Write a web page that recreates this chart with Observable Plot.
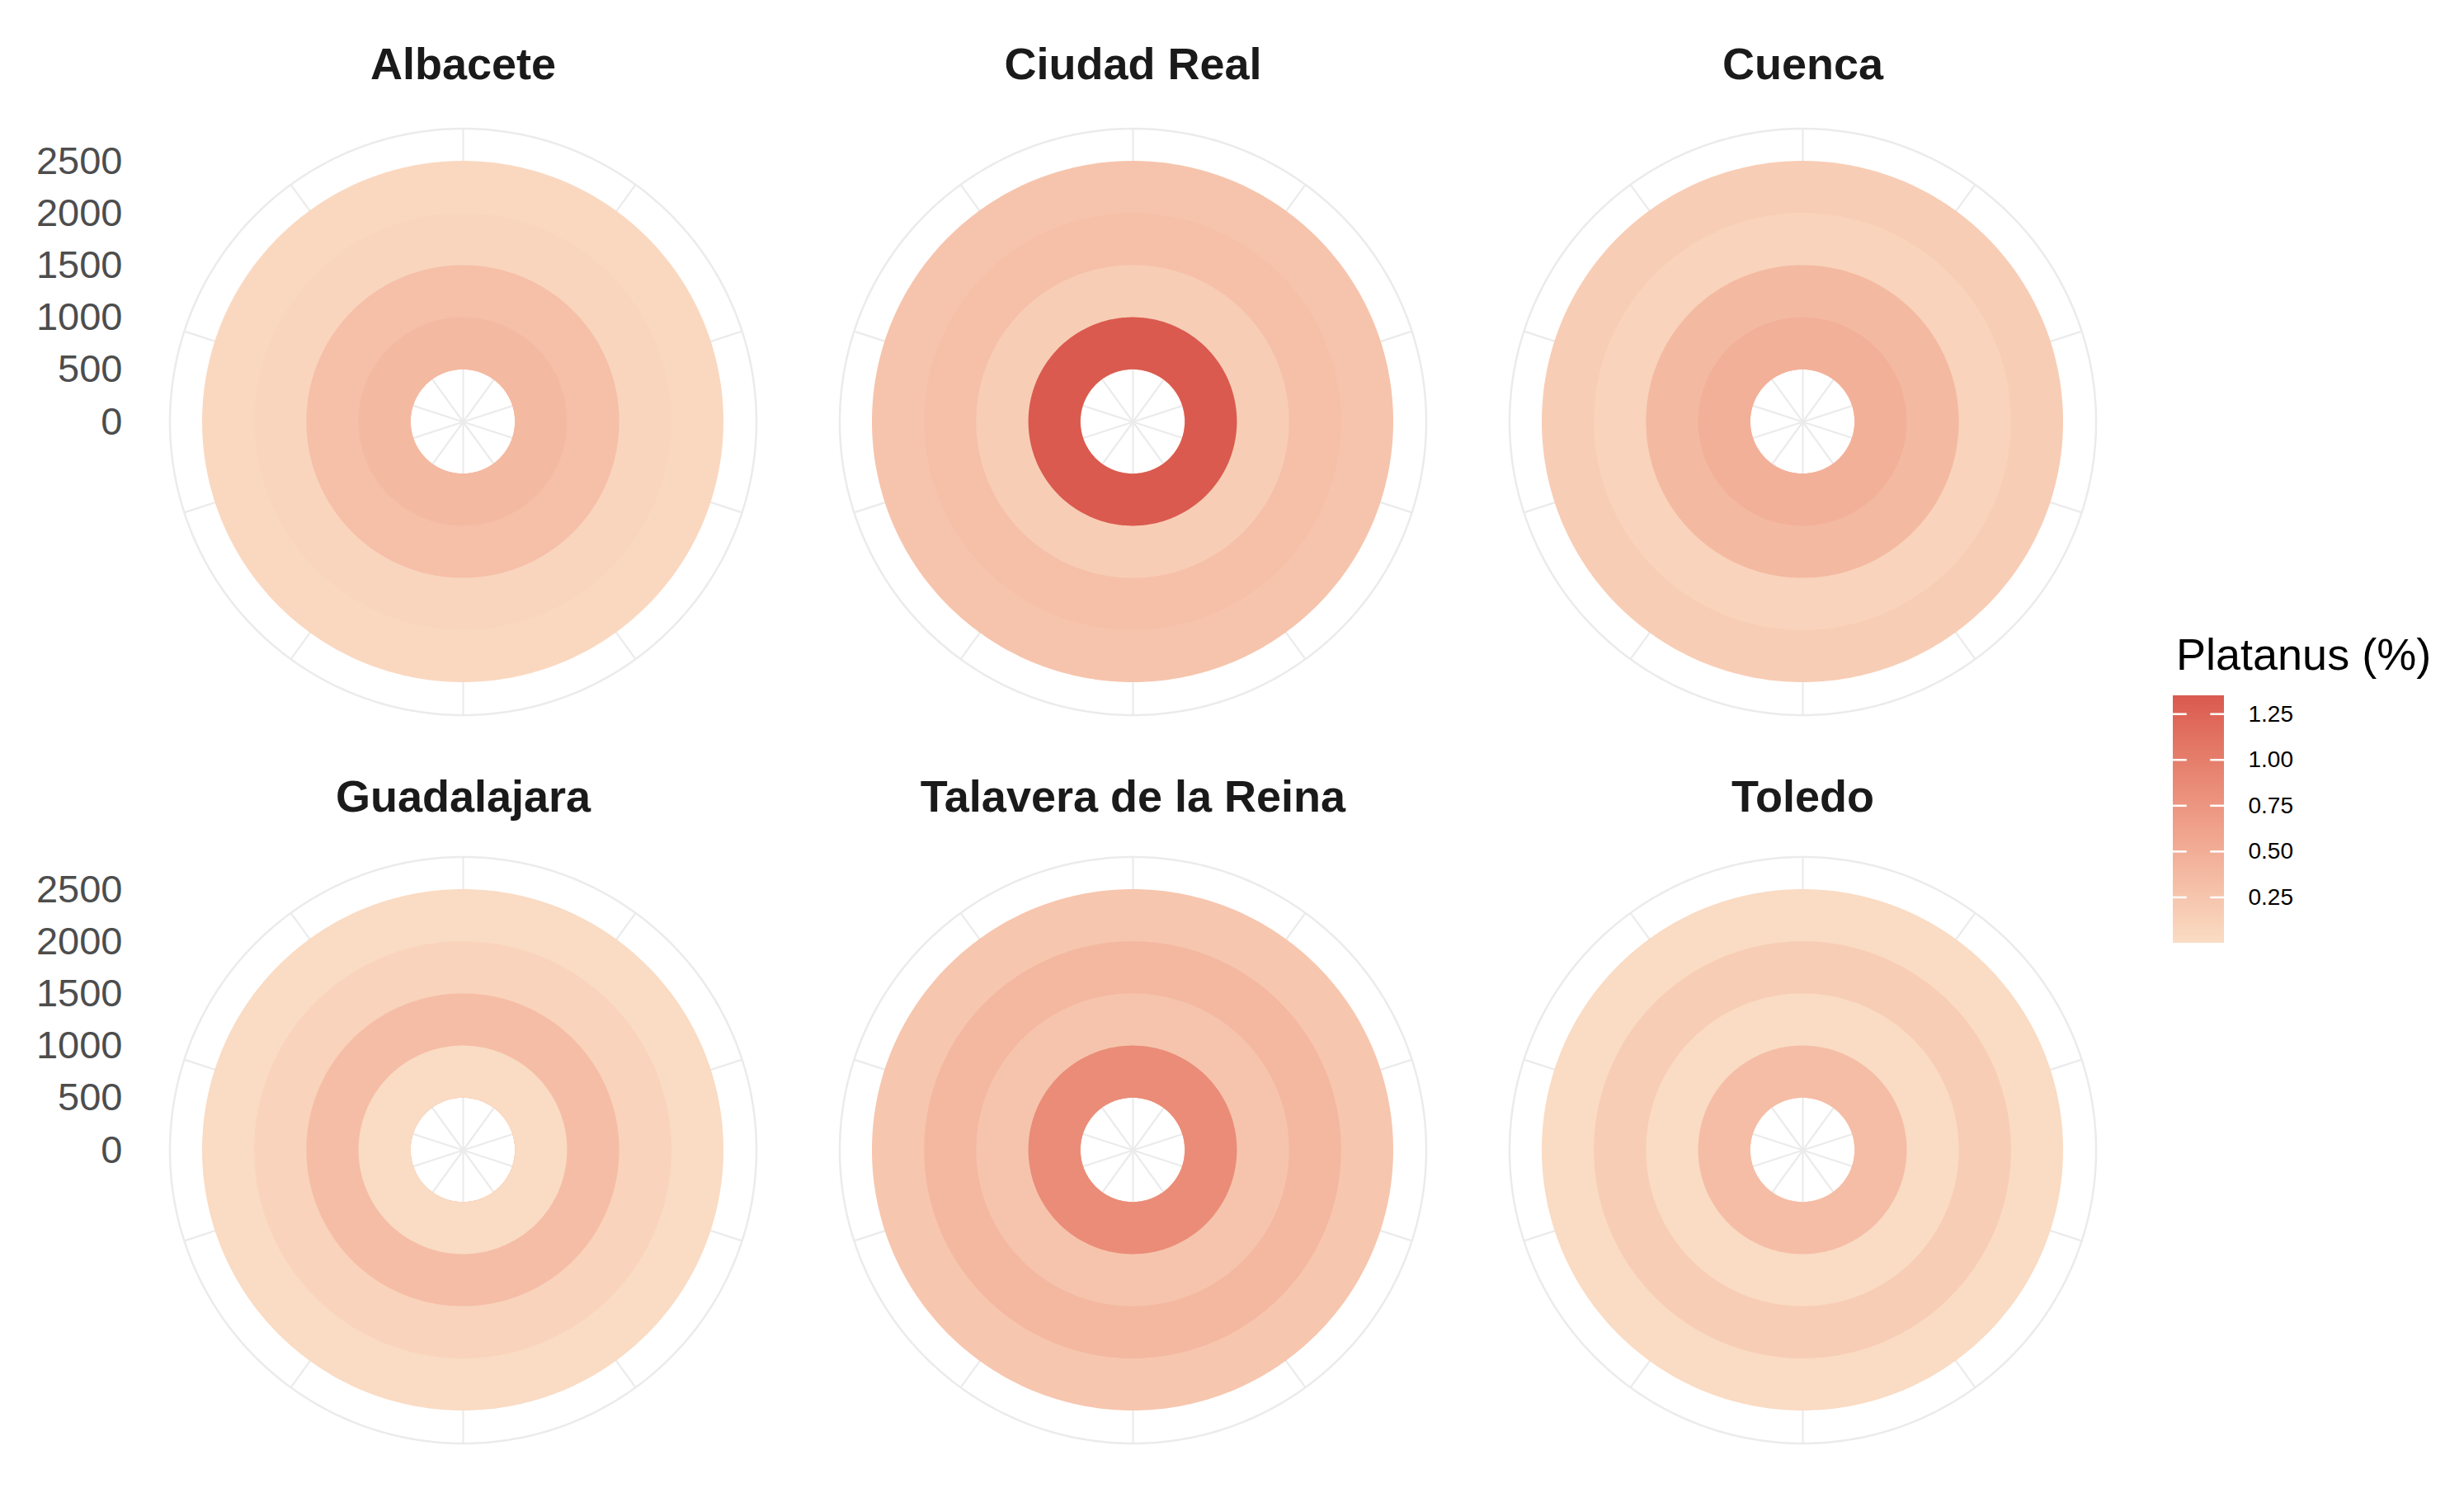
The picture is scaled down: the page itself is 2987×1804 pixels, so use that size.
<!DOCTYPE html>
<html>
<head>
<meta charset="utf-8">
<script src="https://cdn.jsdelivr.net/npm/d3@7"></script>
<script src="https://cdn.jsdelivr.net/npm/@observablehq/plot@0.6"></script>
<style>
  body { margin: 0; background: #fff; }
  #wrap { position: relative; width: 2987px; height: 1804px; font-family: "Liberation Sans", Arial, sans-serif; background: #fff; }
  #main { position: absolute; left: 0; top: 0; }
  #legendTitle { position: absolute; left: 2638px; top: 766px; font-size: 54px; line-height: 1; color: #000; white-space: nowrap; }
  #legend { position: absolute; left: 2600px; top: 800px; }
</style>
</head>
<body>
<div id="wrap">
  <div id="main"></div>
  <div id="legendTitle">Platanus (%)</div>
  <div id="legend"></div>
</div>
<script>
// ---------------- data ----------------
const cities = ["Albacete", "Ciudad Real", "Cuenca", "Guadalajara", "Talavera de la Reina", "Toledo"];
// distance bands (m), inner → outer
const bandInner = [500, 1000, 1500, 2000];
const bandOuter = [1000, 1500, 2000, 2500];
// Platanus (%) per distance band, inner → outer
const albacete    = [0.38, 0.31, 0.07, 0.04];
const ciudadReal  = [1.35, 0.16, 0.30, 0.26];
const cuenca      = [0.47, 0.38, 0.10, 0.16];
const guadalajara = [0.01, 0.33, 0.10, 0.01];
const talavera    = [0.85, 0.26, 0.39, 0.24];
const toledo      = [0.33, 0.01, 0.16, 0.01];
const cityValues = [albacete, ciudadReal, cuenca, guadalajara, talavera, toledo];
const radialTicks = [0, 500, 1000, 1500, 2000, 2500];
const legendTicks = [0.25, 0.50, 0.75, 1.00, 1.25];
const thetaBreaks = 10;            // angular grid lines
const colorDomain = [0, 1.35];
const colorLow = "#FADCC4", colorHigh = "#DA5A4F";

// ---------------- derived tables ----------------
const col = i => i % 3, row = i => Math.floor(i / 3);
const rMax = d3.max(bandOuter);
const rOuterGrid = rMax * 1.125;
const nSeg = 360;
const angles = d3.range(nSeg + 1).map(k => k / nSeg * 2 * Math.PI);

const rings = [];
cities.forEach((city, i) => {
  for (let j = bandOuter.length - 1; j >= 0; j--) {
    const ro = bandOuter[j], ri = bandInner[0];
    angles.forEach(a => rings.push({
      fx: col(i), fy: row(i), ring: city + "-" + j, value: cityValues[i][j],
      xo: ro * Math.sin(a), yo: ro * Math.cos(a),
      xi: ri * Math.sin(a), yi: ri * Math.cos(a)
    }));
  }
});
const gridCircle = angles.map(a => ({x: rOuterGrid * Math.sin(a), y: rOuterGrid * Math.cos(a)}));
const spokes = d3.range(thetaBreaks).map(k => {
  const a = k / thetaBreaks * 2 * Math.PI;
  return {x1: 0, y1: 0, x2: rOuterGrid * Math.sin(a), y2: rOuterGrid * Math.cos(a)};
});
const yLabels = [];
[0, 1].forEach(r => radialTicks.forEach(v => yLabels.push({fx: 0, fy: r, v})));
const titles = cities.map((c, i) => ({c, fx: col(i), fy: row(i)}));

const colorOpts = {type: "linear", domain: colorDomain, range: [colorLow, colorHigh], interpolate: "lab"};

// ---------------- main chart ----------------
const pxPerUnit = 316 / 2500;
const cellW = 812, cellH = 883;
const titleStyle = {fx: "fx", fy: "fy", text: "c", frameAnchor: "top", lineAnchor: "bottom",
  fontSize: 54, fontWeight: "bold", fill: "#1A1A1A"};
const chart = Plot.plot({
  width: 2987, height: 1804,
  marginTop: 0, marginRight: 0, marginBottom: 0, marginLeft: 0,
  facet: {marginTop: 0, marginRight: 0, marginBottom: 0, marginLeft: 0},
  style: {fontFamily: "'Liberation Sans', Arial, sans-serif", background: "white"},
  fx: {domain: [0, 1, 2], range: [561 - cellW / 2, 561 + cellW * 2.5], padding: 0, round: false, axis: null},
  fy: {domain: [0, 1], range: [511 - cellH / 2, 511 + cellH * 1.5], padding: 0, round: false, axis: null},
  x: {domain: [-cellW / 2 / pxPerUnit, cellW / 2 / pxPerUnit], range: [0, cellW], axis: null},
  y: {domain: [-cellH / 2 / pxPerUnit, cellH / 2 / pxPerUnit], range: [cellH, 0], axis: null},
  color: colorOpts,
  marks: [
    Plot.line(gridCircle, {x: "x", y: "y", stroke: "#EBEBEB", strokeWidth: 2.5}),
    Plot.link(spokes, {x1: "x1", y1: "y1", x2: "x2", y2: "y2", stroke: "#EBEBEB", strokeWidth: 2.2}),
    Plot.area(rings, {x1: "xo", y1: "yo", x2: "xi", y2: "yi", z: "ring", fill: "value", fx: "fx", fy: "fy"}),
    Plot.text(titles.filter(d => d.fy === 0), {...titleStyle, dy: 25.5}),
    Plot.text(titles.filter(d => d.fy === 1), {...titleStyle, dy: 30.5}),
    Plot.text(yLabels, {fx: "fx", fy: "fy", y: "v", text: d => String(d.v), frameAnchor: "left",
      textAnchor: "end", dx: -7, fontSize: 47, fill: "#4D4D4D"})
  ]
});
document.getElementById("main").appendChild(chart);

// ---------------- legend (colour bar) ----------------
const nSlices = 300;
const step = (colorDomain[1] - colorDomain[0]) / nSlices;
const slices = d3.range(nSlices).map(k => ({v1: colorDomain[0] + k * step, v2: Math.min(colorDomain[1], colorDomain[0] + (k + 1.6) * step)}));
const legend = Plot.plot({
  width: 380, height: 380,
  marginTop: 0, marginRight: 0, marginBottom: 0, marginLeft: 0,
  style: {fontFamily: "'Liberation Sans', Arial, sans-serif", background: "transparent"},
  x: {domain: [0, 1], range: [34, 96], axis: null},
  y: {domain: colorDomain, range: [343, 43], axis: null},
  color: colorOpts,
  marks: [
    Plot.rect(slices, {x1: 0, x2: 1, y1: "v1", y2: "v2", fill: d => (d.v1 + d.v2) / 2}),
    Plot.ruleY(legendTicks, {y: d => d, x1: 0, x2: 0.27, stroke: "white", strokeWidth: 2.5}),
    Plot.ruleY(legendTicks, {y: d => d, x1: 0.73, x2: 1, stroke: "white", strokeWidth: 2.5}),
    Plot.text(legendTicks, {y: d => d, x: 1, dx: 29, text: d => d.toFixed(2), textAnchor: "start", fontSize: 28, fill: "#000"})
  ]
});
document.getElementById("legend").appendChild(legend);
</script>
</body>
</html>
